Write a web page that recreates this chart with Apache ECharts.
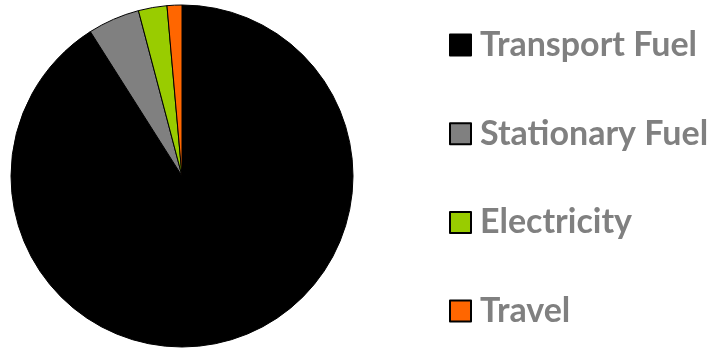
<!DOCTYPE html>
<html>
<head>
<meta charset="utf-8">
<script src="https://cdn.jsdelivr.net/npm/echarts@6/dist/echarts.min.js"></script>
<style>
  html, body { margin: 0; padding: 0; background: #fff; }
  #chart { width: 717px; height: 349px; }
</style>
</head>
<body>
<div id="chart"></div>
<script>
// data (shares in %)
var categories = ['Transport Fuel', 'Stationary Fuel', 'Electricity', 'Travel']
var values = [91.0, 4.9, 2.7, 1.4]
var colors = ['#000000', '#808080', '#99CC00', '#FF6600']

var pieData = []
for (let i = 0; i < categories.length; i++) {
    pieData.push({
        name: categories[i],
        value: values[i],
        itemStyle: { color: colors[i] }
    })
}

// one legend block per row so the spacing matches the picture
var legends = []
for (let i = 0; i < categories.length; i++) {
    legends.push({
        orient: 'vertical',
        left: 449,
        top: 45 + i * 88.7 - 17,
        padding: 0,
        icon: 'rect',
        itemWidth: 21,
        itemHeight: 21,
        selectedMode: false,
        textStyle: {
            fontFamily: 'Lato',
            fontWeight: 'bold',
            fontSize: 34,
            lineHeight: 34,
            color: '#808080',
            padding: [0, 0, 0, 4]
        },
        data: [categories[i]]
    })
}

var option = {
    animation: false,
    backgroundColor: '#ffffff',
    legend: legends,
    series: [
        {
            type: 'pie',
            center: [182, 176],
            radius: 171,
            startAngle: 90,
            clockwise: true,
            label: { show: false },
            labelLine: { show: false },
            itemStyle: {
                borderColor: '#000000',
                borderWidth: 1
            },
            emphasis: { disabled: true },
            data: pieData
        }
    ]
}

var myChart = echarts.init(document.getElementById('chart'))
myChart.setOption(option)
</script>
</body>
</html>
